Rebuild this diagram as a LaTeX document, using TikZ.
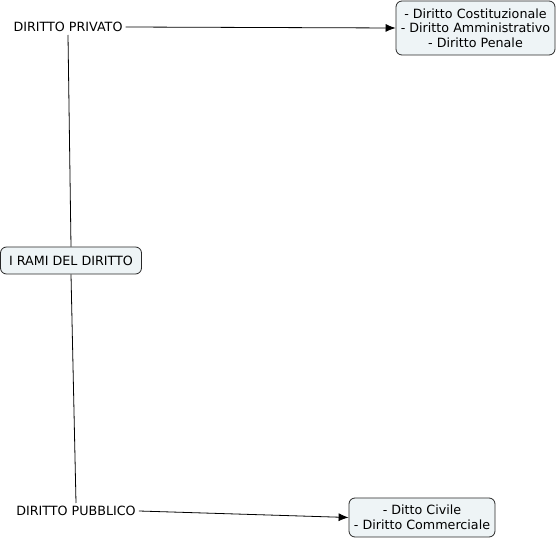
\documentclass[tikz,border=0pt]{standalone}
\usepackage{fontspec}
\setmainfont{DejaVu Sans}
\usepackage{tikz}
\usetikzlibrary{arrows.meta, positioning}

\definecolor{boxfill}{RGB}{238,244,246}
\definecolor{boxline}{RGB}{40,40,40}

\begin{document}
\begin{tikzpicture}[
  x=1pt, y=-1pt,
  every node/.style={font=\fontsize{12.7}{14.5}\selectfont, align=center},
  concept/.style={draw=boxline, rounded corners=6pt, fill=boxfill, line width=0.8pt,
                  inner xsep=4pt, inner ysep=3pt},
  plain/.style={inner sep=3pt},
  link/.style={line width=0.8pt},
  arr/.style={-{Latex[length=10pt, width=8pt]}, line width=0.8pt}
]
  \useasboundingbox (0,0) rectangle (558,540);

  % --- root ---
  \node[concept, minimum width=141pt, minimum height=27pt] (root) at (71,260.5) {I RAMI DEL DIRITTO};

  % --- branches ---
  \node[plain] (priv) at (68,27) {DIRITTO PRIVATO};
  \node[plain] (pubb) at (76,511) {DIRITTO PUBBLICO};

  % --- leaves ---
  \node[concept, minimum width=159pt, minimum height=54pt] (leafpriv) at (475.5,28)
    {- Diritto Costituzionale\\- Diritto Amministrativo\\- Diritto Penale};
  \node[concept, minimum width=146pt, minimum height=39pt] (leafpubb) at (422,517.5)
    {- Ditto Civile\\- Diritto Commerciale};

  % --- connectors ---
  \draw[link] (root.north) -- (priv.south);
  \draw[link] (root.south) -- (pubb.north);
  \draw[arr] (priv.east) -- (leafpriv.west);
  \draw[arr] (pubb.east) -- (leafpubb.west);

\end{tikzpicture}
\end{document}
